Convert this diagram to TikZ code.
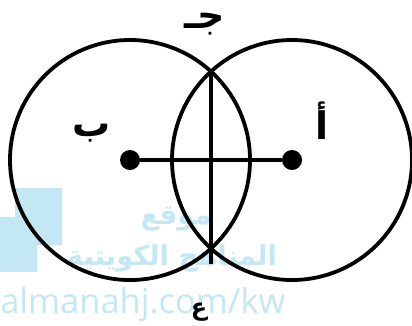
\documentclass[tikz,border=0pt]{standalone}
\usepackage{fontspec}
\setmainfont{DejaVu Sans}
\newfontfamily\arabicfont[Script=Arabic]{DejaVu Sans}
\newfontfamily\markfont{Open Sans}
\TeXXeTstate=1
\definecolor{markblue}{HTML}{C4E7F4}
\tikzset{
  ring/.style={draw, line width=2.7pt},
  centredot/.style={circle, fill=black, inner sep=0pt, minimum size=0.5cm},
  letter/.style={font=\arabicfont\bfseries\fontsize{27}{27}\selectfont},
  markword/.style={text=markblue, font=\arabicfont\bfseries\fontsize{19.5}{19.5}\selectfont}
}
\begin{document}
\begin{tikzpicture}[x=0.025cm,y=-0.025cm]
\useasboundingbox (0,0) rectangle (412,325);
% watermark
\fill[markblue] (15,188) rectangle (62,245);
\fill[markblue] (0,217) rectangle (37,272);
\node[markword] (mark1) at (176,219) {\beginR موقع\endR};
\node[markword] (mark2) at (172,258) {\beginR المناهج الكويتية\endR};
\node[text=markblue, font=\markfont\fontsize{24.5}{24.5}\selectfont, anchor=base west, inner sep=0pt] (site) at (0,313) {almanahj.com/kw};
% circles
\coordinate (centreB) at (130,160);
\coordinate (centreA) at (292,160);
\draw[ring] (centreB) circle[radius=120];
\draw[ring] (centreA) circle[radius=120];
% chord
\coordinate (top) at (211,71.5);
\coordinate (bottom) at (211,264);
\draw[line width=2.2pt] (top) -- (bottom);
\node[centredot] (b) at (centreB) {};
\node[centredot] (a) at (centreA) {};
\draw[line width=2.2pt] (b) -- (a);
% labels
\node[letter] (jim) at (205,24) {\beginR جـ\endR};
\node[letter] (ba) at (92,133) {ب};
\node[letter] (alif) at (322,121) {أ};
\node[letter, font=\arabicfont\bfseries\fontsize{17}{17}\selectfont, inner sep=0pt] (ayn) at (199,312) {ع};
\end{tikzpicture}
\end{document}
